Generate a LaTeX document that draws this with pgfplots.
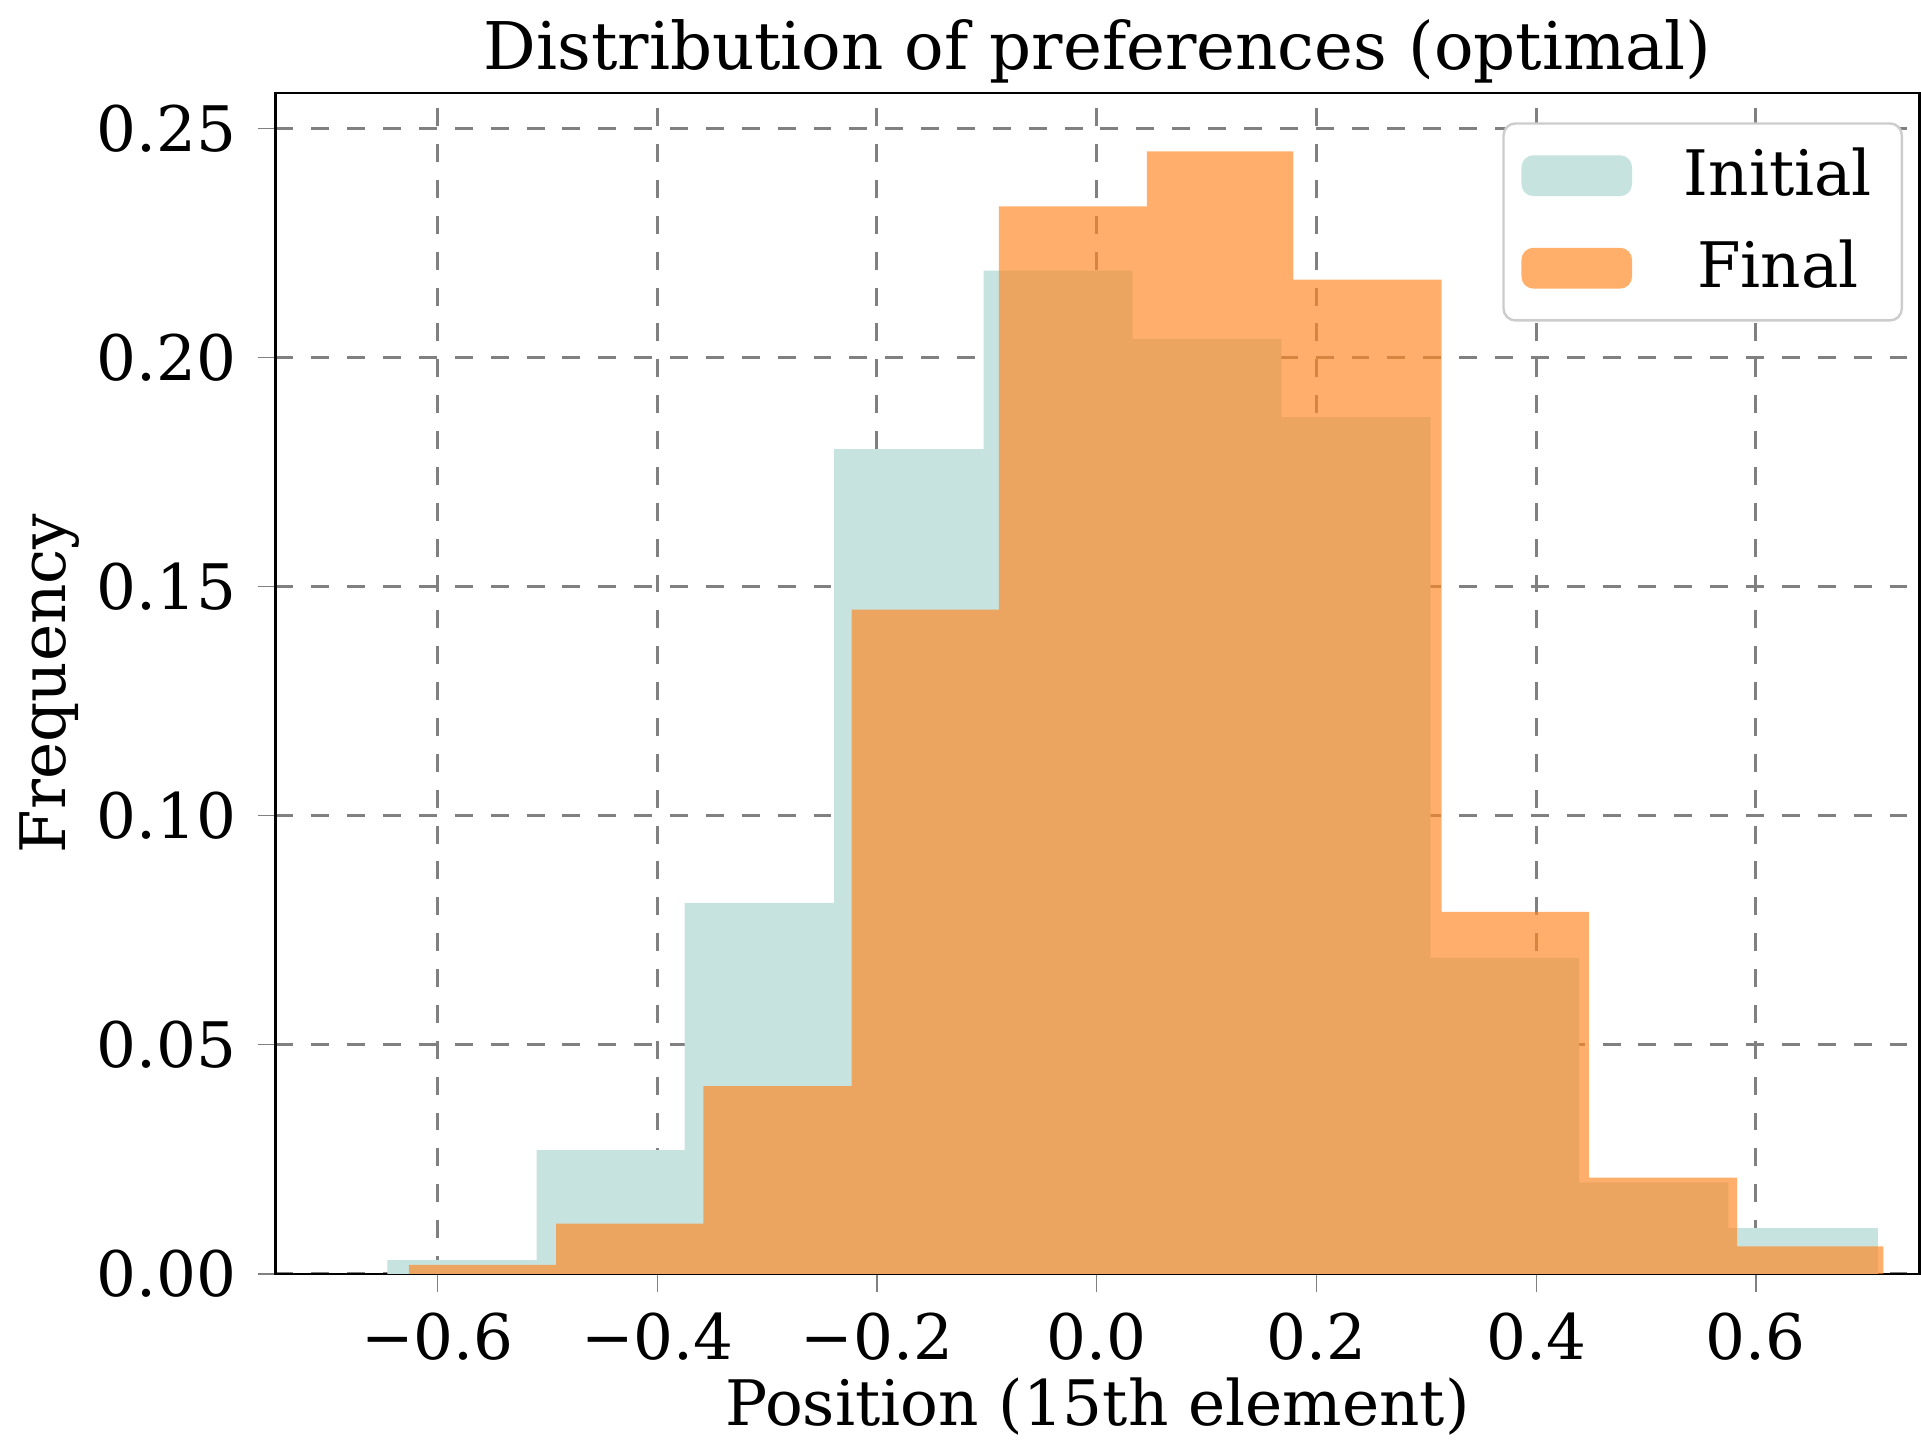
\documentclass[border=0pt]{standalone}
\usepackage{pgfplots}
\pgfplotsset{compat=1.18}
\usepackage{fontspec}
\setmainfont{DejaVu Serif}
\definecolor{ini}{HTML}{C7E3DF}
\definecolor{fin}{HTML}{FF8822}
\begin{document}
\begin{tikzpicture}
\begin{axis}[
  width=275pt, height=197.6pt, scale only axis,
  xmin=-0.7474, xmax=0.7489, ymin=0, ymax=0.2578,
  xtick={-0.6,-0.4,-0.2,0,0.2,0.4,0.6},
  xticklabels={−0.6,−0.4,−0.2,0.0,0.2,0.4,0.6},
  ytick={0,0.05,...,0.251},
  yticklabel style={/pgf/number format/.cd,fixed,fixed zerofill,precision=2},
  /pgf/number format/assume math mode=true,
  tick align=outside, tick pos=left, major tick length=3pt,
  grid=major, grid style={dashed, gray, line width=0.5pt},
  tick label style={font=\fontsize{10.5}{12}\selectfont},
  label style={font=\fontsize{10.5}{12}\selectfont},
  xlabel={Position (15th element)}, ylabel={Frequency},
  xlabel style={yshift=4pt}, ylabel style={yshift=-4pt},
  title={Distribution of preferences (optimal)},
  title style={font=\fontsize{11}{13}\selectfont, yshift=-8pt},
  legend style={at={(0.99,0.975)}, anchor=north east, font=\fontsize{10.5}{12}\selectfont, draw=gray!40, rounded corners=2pt, row sep=2pt},
  legend image code/.code={\fill[#1] (-0.1cm,-0.12cm) rectangle (0.55cm,0.12cm);},
]
\addplot[ybar interval, fill=ini, draw=none] coordinates {
(-0.6457,0.003) (-0.5098,0.027) (-0.375,0.081) (-0.239,0.180) (-0.103,0.219)
(0.0326,0.204) (0.168,0.187) (0.304,0.069) (0.439,0.020) (0.575,0.010) (0.711,0.010)};
\addlegendentry{\ \ Initial}
\addplot[ybar interval, fill=fin, fill opacity=0.67, draw=none] coordinates {
(-0.626,0.002) (-0.492,0.011) (-0.358,0.041) (-0.223,0.145) (-0.089,0.233)
(0.0457,0.245) (0.179,0.217) (0.314,0.079) (0.448,0.021) (0.583,0.006) (0.716,0.006)};
\addlegendentry{\ \ Final}
\end{axis}
\end{tikzpicture}
\end{document}
